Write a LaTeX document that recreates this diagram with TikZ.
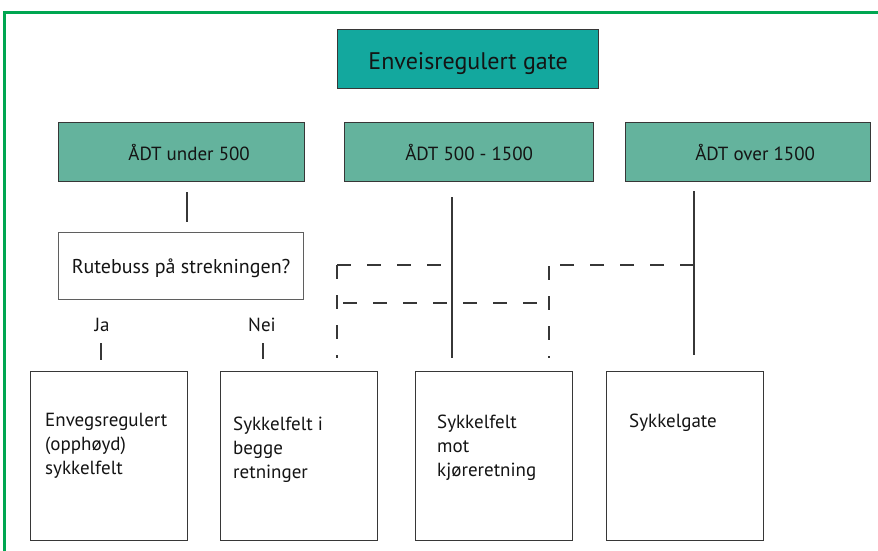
\documentclass[tikz,border=0pt]{standalone}
\usepackage{fontspec}
\setmainfont{PT Sans}
\definecolor{framegreen}{RGB}{0,166,81}
\definecolor{topfill}{RGB}{19,168,158}
\definecolor{adtfill}{RGB}{100,179,157}
\definecolor{edgegray}{RGB}{55,55,55}
\definecolor{textgray}{RGB}{20,20,20}
\newcommand{\lowered}[2]{\raisebox{-#1}[\height][\depth]{#2}}
\begin{document}
\begin{tikzpicture}[x=1pt,y=-1pt,
  box/.style={draw=edgegray, line width=1.3pt, anchor=north west, inner sep=0pt, text=textgray},
  adt/.style={box, fill=adtfill, minimum height=59pt, font=\fontsize{19}{22}\selectfont},
  result/.style={box, fill=white, minimum width=157pt, minimum height=169pt},
  restext/.style={anchor=north west, inner sep=0pt, align=left, text=textgray, font=\fontsize{19}{24}\selectfont},
  link/.style={draw=edgegray, line width=1.3pt},
  dlink/.style={link, dash pattern=on 14pt off 16pt},
  lbl/.style={font=\fontsize{19}{22}\selectfont, inner sep=0pt, text=textgray}]
\useasboundingbox (0,0) rectangle (878,550);
\draw[framegreen, line width=2.2pt] (4.5,552) -- (4.5,12.5) -- (880,12.5);

\node[box, fill=topfill, minimum width=261pt, minimum height=59pt,
      font=\fontsize{24}{28}\selectfont] (top) at (337,29) {\lowered{4pt}{Enveisregulert gate}};

\node[adt, minimum width=246pt] (a1) at (58,122) {\hspace*{15pt}ÅDT under 500};
\node[adt, minimum width=249pt] (a2) at (344,122) {ÅDT 500 - 1500};
\node[adt, minimum width=245pt] (a3) at (625,122) {\hspace*{14pt}ÅDT over 1500};

\node[box, draw=edgegray!80, fill=white, minimum width=245pt, minimum height=67pt,
      font=\fontsize{20}{24}\selectfont] (q) at (58,232) {\lowered{2pt}{Rutebuss på strekningen?}};

\node[lbl] (ja) at (102,325) {Ja};
\node[lbl] (nei) at (262,325) {Nei};

\node[result] (r1) at (30,371) {};
\node[result] (r2) at (220,371) {};
\node[result] (r3) at (415,371) {};
\node[result] (r4) at (606,371) {};

\node[restext] (t1) at (45,413) {Envegsregulert\\(opphøyd)\\sykkelfelt};
\node[restext] (t2) at (233,417) {Sykkelfelt i\\begge\\retninger};
\node[restext] (t3) at (437,415) {Sykkelfelt\\mot\\kjøreretning};
\node[restext] (t4) at (629,414) {Sykkelgate};

% solid connectors
\coordinate (c1a) at (187,192); \coordinate (c1b) at (187,222);
\coordinate (c2a) at (452,197); \coordinate (c2b) at (452,358);
\coordinate (c3a) at (694,191); \coordinate (c3b) at (694,355);
\coordinate (ja1) at (101,343); \coordinate (ja2) at (101,360);
\coordinate (ne1) at (263,343); \coordinate (ne2) at (263,359);
\draw[link] (c1a) -- (c1b);
\draw[link] (c2a) -- (c2b);
\draw[link] (c3a) -- (c3b);
\draw[link] (ja1) -- (ja2);
\draw[link] (ne1) -- (ne2);

% dashed connectors
\coordinate (dl) at (337,265); \coordinate (dlm) at (451,265); \coordinate (dlb) at (337,358);
\coordinate (dr) at (549,265); \coordinate (drm) at (694,265); \coordinate (drb) at (549,358);
\coordinate (ml) at (337,303); \coordinate (mr) at (549,303);
\draw[dlink] (dl) -- (dlm);
\draw[dlink] (dl) -- (dlb);
\draw[dlink] (drm) -- (dr);
\draw[dlink, dash phase=-1pt] (dr) -- (drb);
\draw[dlink, dash phase=-6pt] (ml) -- (mr);
\end{tikzpicture}
\end{document}
